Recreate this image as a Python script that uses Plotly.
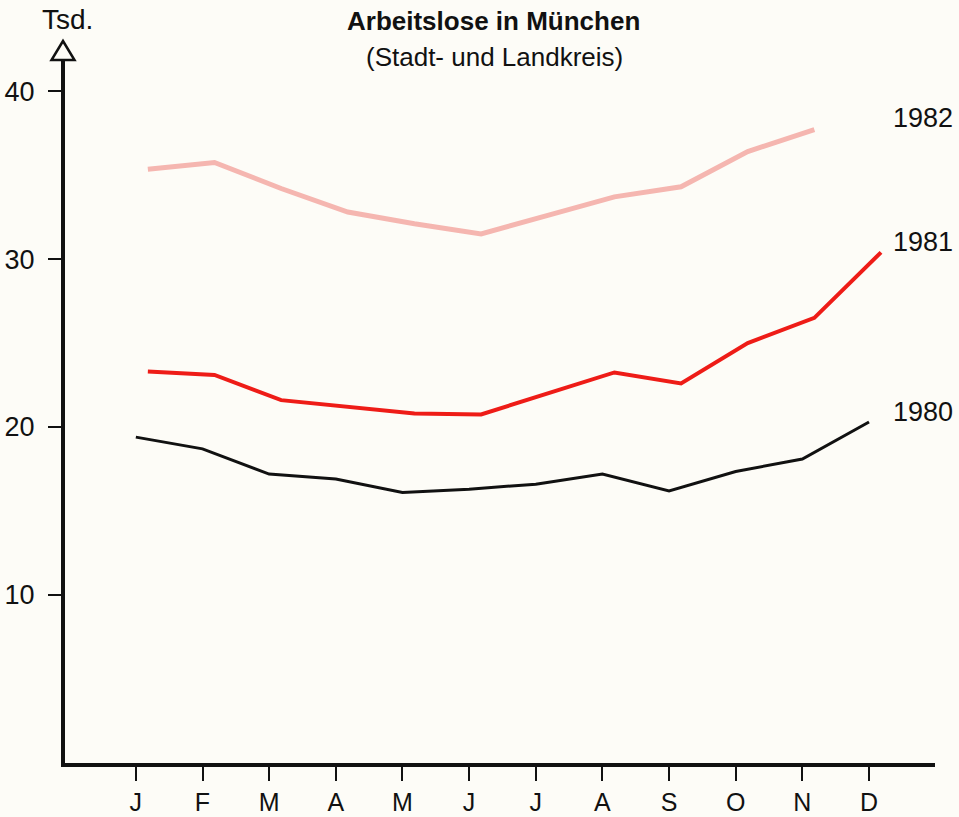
import plotly.graph_objects as go

# ---- data ----
months = ["J", "F", "M", "A", "M", "J", "J", "A", "S", "O", "N", "D"]
v1980 = [19.4, 18.7, 17.2, 16.9, 16.1, 16.3, 16.6, 17.2, 16.2, 17.35, 18.1, 20.3]
v1981 = [23.3, 23.1, 21.6, 21.2, 20.8, 20.75, 22.0, 23.25, 22.6, 25.0, 26.5, 30.4]
v1982 = [35.35, 35.75, 34.2, 32.8, 32.1, 31.5, 32.6, 33.7, 34.3, 36.4, 37.7]
y_ticks = [10, 20, 30, 40]

BG = "#fdfcf7"
FONT = "Liberation Sans, Arial, Helvetica, sans-serif"

W, H = 959, 817
ML, MR, MT, MB = 65, 24, 60, 54
PW, PH = W - ML - MR, H - MT - MB

idx = list(range(len(months)))
shift = 0.18  # the 1981/1982 curves are drawn slightly right of the month ticks

fig = go.Figure()
fig.add_trace(go.Scatter(x=[i + shift for i in idx[:len(v1982)]], y=v1982, mode="lines",
                         line=dict(color="#f5b6b0", width=5), name="1982"))
fig.add_trace(go.Scatter(x=[i + shift for i in idx], y=v1981, mode="lines",
                         line=dict(color="#ee1c17", width=4), name="1981"))
fig.add_trace(go.Scatter(x=idx, y=v1980, mode="lines",
                         line=dict(color="#111111", width=3), name="1980"))

# end labels
labels = [("1982", 38.4), ("1981", 31.0), ("1980", 20.9)]
annotations = []
for txt, yv in labels:
    annotations.append(dict(x=11.33, y=yv, xref="x", yref="y", text=txt, showarrow=False,
                            xanchor="left", yanchor="middle",
                            font=dict(size=27, color="#111111", family=FONT)))

def px_x(p):
    return (p - ML) / PW

def px_y(p):
    return (H - MB - p) / PH

annotations += [
    dict(x=px_x(493), y=px_y(21), xref="paper", yref="paper", text="<b>Arbeitslose in München</b>",
         showarrow=False, xanchor="center", yanchor="middle",
         font=dict(size=26, color="#111111", family=FONT)),
    dict(x=px_x(494), y=px_y(57), xref="paper", yref="paper", text="(Stadt- und Landkreis)",
         showarrow=False, xanchor="center", yanchor="middle",
         font=dict(size=26, color="#111111", family=FONT)),
    dict(x=px_x(67), y=px_y(20), xref="paper", yref="paper", text="Tsd.",
         showarrow=False, xanchor="center", yanchor="middle",
         font=dict(size=28, color="#111111", family=FONT)),
]

# open arrow head on top of the y axis
ax_x = 63
tri = "M {x0},{y0} L {x1},{y0} L {xa},{ya} Z".format(
    x0=px_x(ax_x - 11.5), x1=px_x(ax_x + 11.5), y0=px_y(60), xa=px_x(ax_x), ya=px_y(41))

fig.update_layout(
    width=W, height=H,
    margin=dict(l=ML, r=MR, t=MT, b=MB, autoexpand=False),
    paper_bgcolor=BG, plot_bgcolor=BG,
    showlegend=False,
    annotations=annotations,
    shapes=[dict(type="path", path=tri, xref="paper", yref="paper",
                 fillcolor=BG, line=dict(color="#111111", width=2.5), layer="above")],
    font=dict(family=FONT, color="#111111"),
)
fig.update_xaxes(
    range=[-1.063, 11.99], tickvals=idx, ticktext=months, automargin=False,
    showgrid=False, zeroline=False,
    showline=True, linecolor="#111111", linewidth=4,
    ticks="outside", ticklen=14, tickwidth=1.5, tickcolor="#111111",
    tickfont=dict(size=25, color="#111111", family=FONT), ticklabelstandoff=0,
)
fig.update_yaxes(
    range=[0, 41.85], tickvals=y_ticks, ticktext=[str(v) for v in y_ticks], automargin=False,
    showgrid=False, zeroline=False,
    showline=True, linecolor="#111111", linewidth=4,
    ticks="outside", ticklen=13, tickwidth=1.5, tickcolor="#111111",
    tickfont=dict(size=27, color="#111111", family=FONT), ticklabelstandoff=8,
)

post = ("document.documentElement.style.margin='0';document.body.style.margin='0';"
        "document.body.style.padding='0';document.body.style.overflow='hidden';"
        "document.body.style.background='" + BG + "';")
fig.write_html("out.html", post_script=post, config={"displayModeBar": False})
